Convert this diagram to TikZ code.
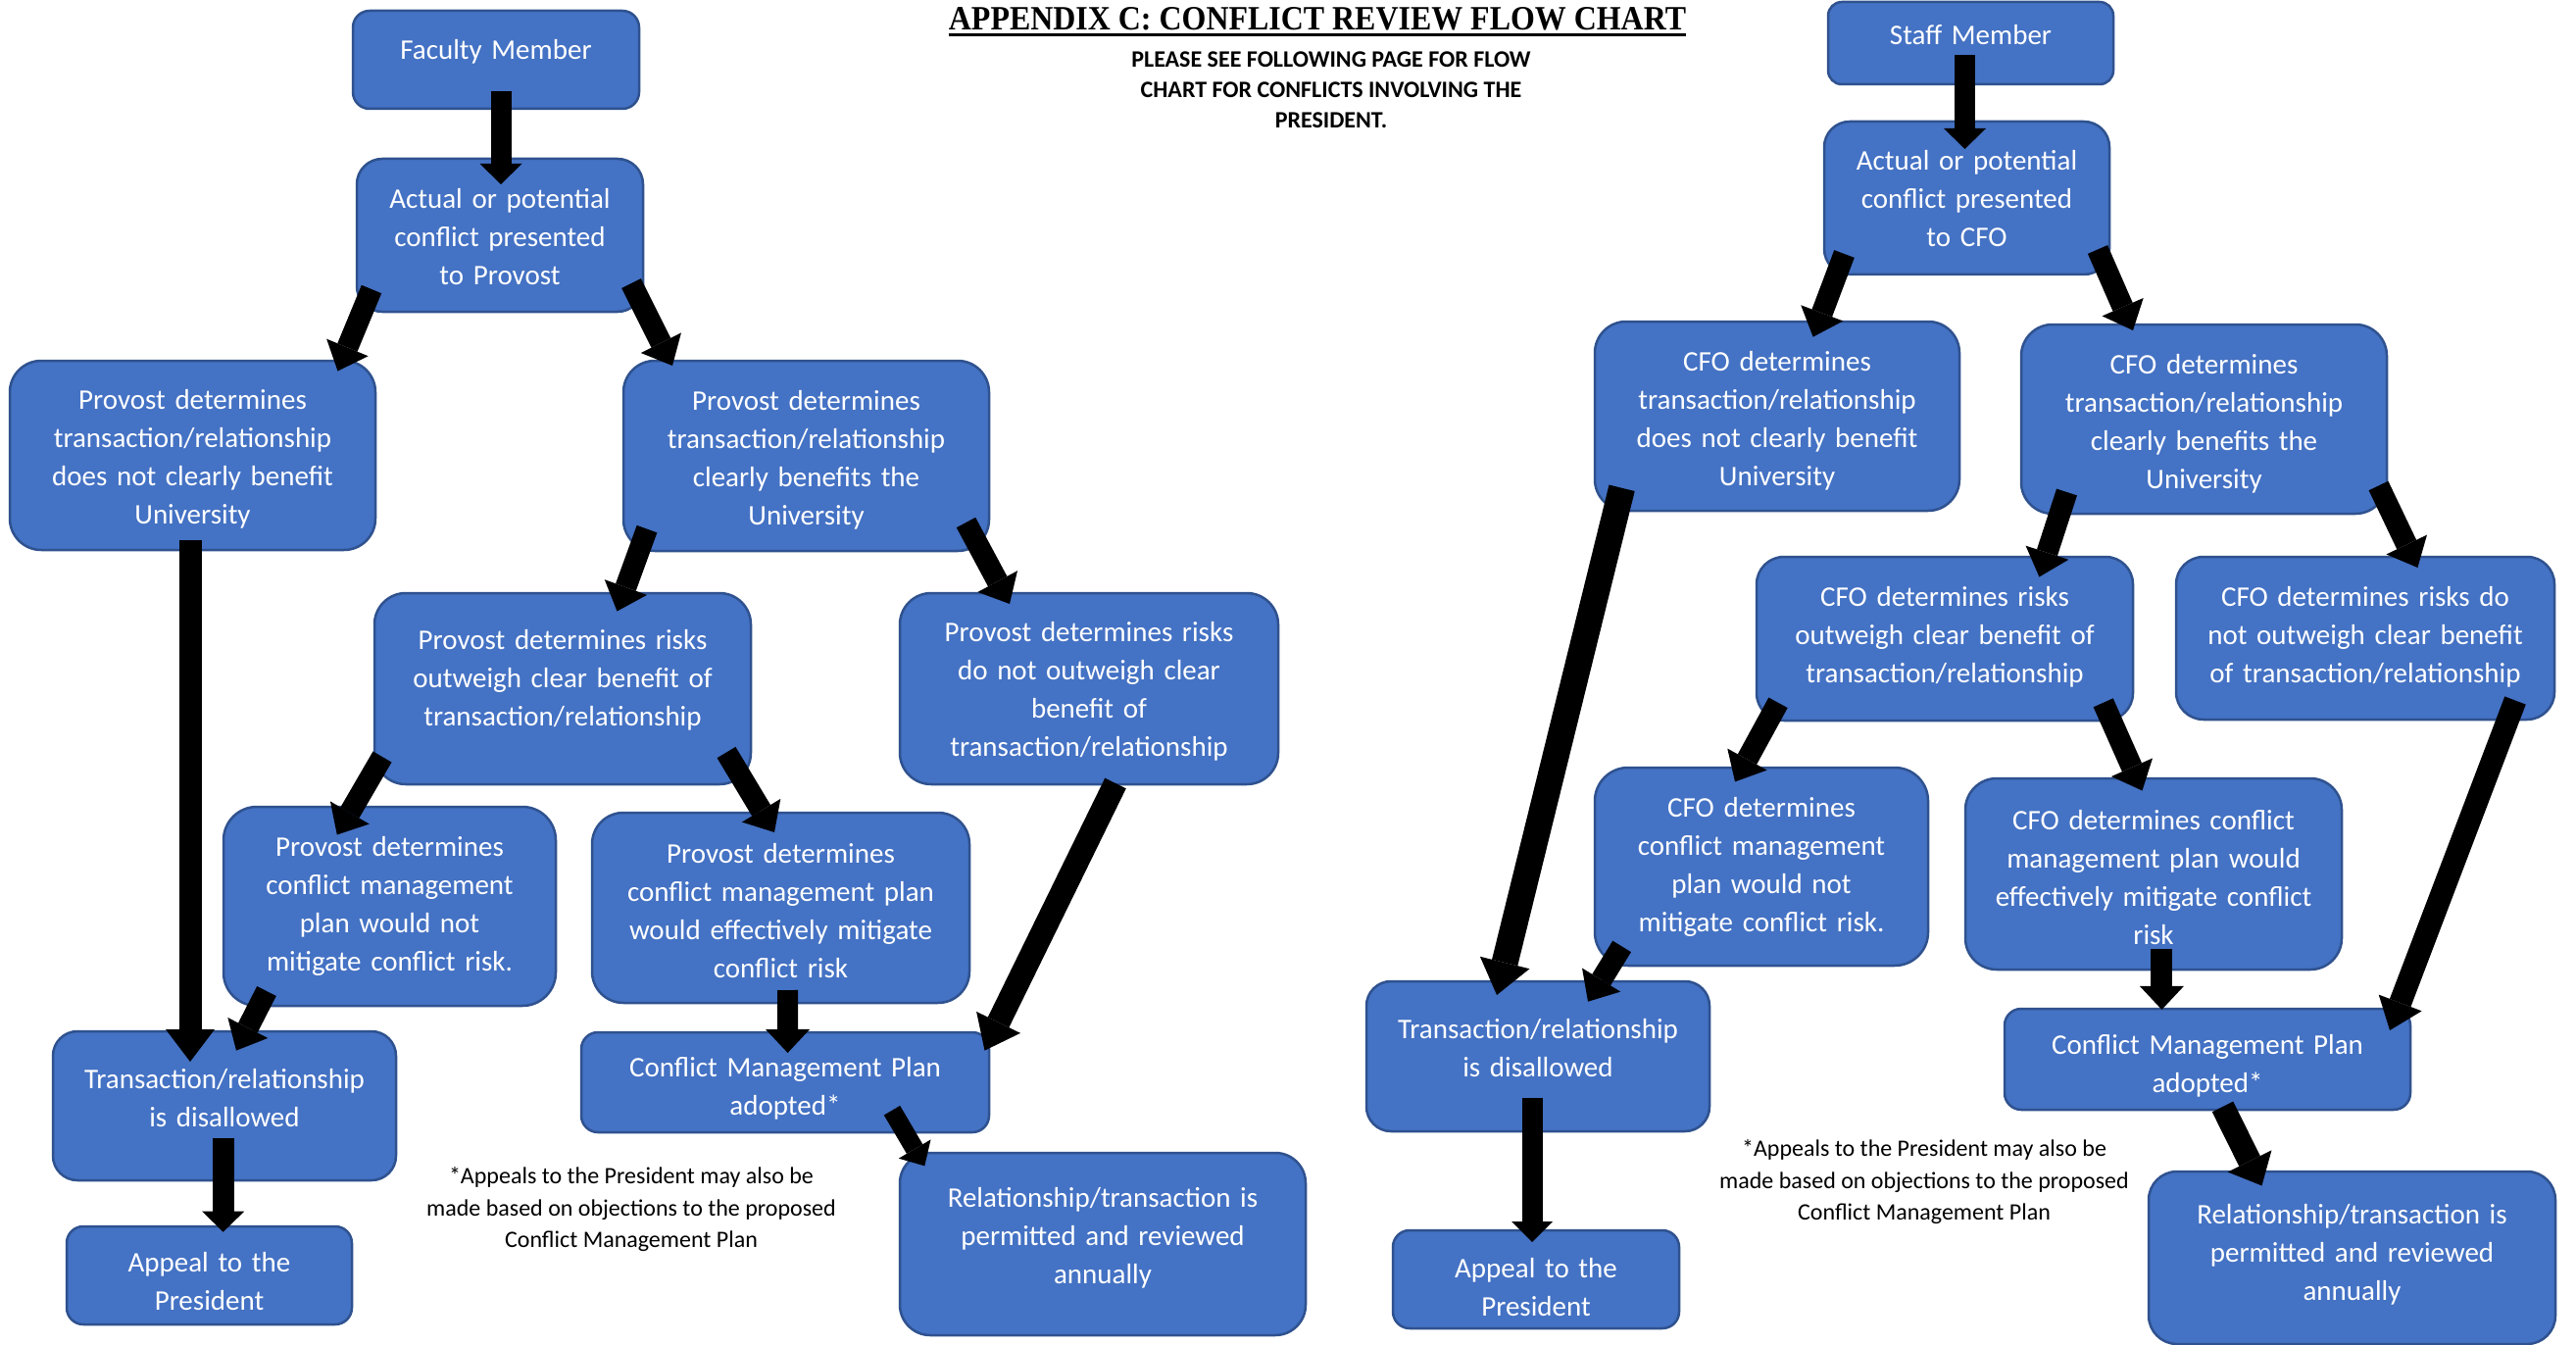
\documentclass[tikz,border=0pt]{standalone}
\usepackage{fontspec}
\setmainfont{Carlito}
\newfontfamily\titlefont{Liberation Serif}
\usepackage{graphicx}
\usetikzlibrary{arrows.meta}
\definecolor{boxfill}{HTML}{4472C4}
\definecolor{boxline}{HTML}{2F528F}
\tikzset{
  blbox/.style={draw=boxline, fill=boxfill, line width=2.5pt, inner sep=0pt, outer sep=0pt},
  btext/.style={text=white, align=center, inner sep=0pt, font=\fontsize{29}{39}\selectfont},
  fnote/.style={text=black, align=center, inner sep=0pt, font=\fontsize{24}{32.5}\selectfont},
  subnote/.style={text=black, align=center, inner sep=0pt, font=\fontsize{24}{31}\selectfont\bfseries},
  blockarr/.style n args={3}{line width=#1pt, -{Triangle[width=#2pt,length=#3pt,line width=0pt]}},
}
\newcommand\flowbox[8]{%
  \node[blbox, minimum width=#4pt, minimum height=#5pt, rounded corners=#6pt] (#1) at (#2,#3) {};
  \node[btext, text width=#4pt] (#1t) at (#2,{#7+3.5}) {#8};
}
\begin{document}
\begin{tikzpicture}[x=1pt,y=-1pt]
\fill[white] (0,0) rectangle (2628,1372);
\useasboundingbox (0,0) rectangle (2628,1372);

% title
\node[inner sep=0pt] (title) at (1344,19) {\resizebox{752pt}{23pt}{\titlefont\bfseries APPENDIX C: CONFLICT REVIEW FLOW CHART}};
\draw[line width=3.2pt] ([shift={(0,4.5)}]title.south west) -- ([shift={(0,4.5)}]title.south east);
\node[subnote] (sub) at (1358,92) {PLEASE SEE FOLLOWING PAGE FOR FLOW\\CHART FOR CONFLICTS INVOLVING THE\\PRESIDENT.};

% left chart
\flowbox{fac}{506}{61}{292}{100}{17}{49}{Faculty Member}
\flowbox{actP}{510}{240}{292}{156}{26}{238}{Actual or potential\\conflict presented\\to Provost}
\flowbox{pNot}{196.5}{464.5}{373}{193}{32}{465}{Provost determines\\transaction/relationship\\does not clearly benefit\\University}
\flowbox{pYes}{822.5}{465}{373}{194}{32}{466}{Provost determines\\transaction/relationship\\clearly benefits the\\University}
\flowbox{pRiskY}{574}{702.5}{384}{195}{32}{690}{Provost determines risks\\outweigh clear benefit of\\transaction/relationship}
\flowbox{pRiskN}{1111}{702.5}{386}{195}{32}{702}{Provost determines risks\\do not outweigh clear\\benefit of\\transaction/relationship}
\flowbox{pCmpN}{397.5}{924.5}{339}{203}{34}{921}{Provost determines\\conflict management\\plan would not\\mitigate conflict risk.}
\flowbox{pCmpY}{796.5}{926}{385}{194}{32}{926}{Provost determines\\conflict management plan\\would effectively mitigate\\conflict risk}
\flowbox{pDis}{229}{1128}{350}{152}{25}{1117}{Transaction/relationship\\is disallowed}
\flowbox{pAdopt}{801}{1104}{416}{102}{17}{1107}{Conflict Management Plan\\adopted*}
\flowbox{pApp}{213.5}{1301}{291}{100}{17}{1304}{Appeal to the\\President}
\flowbox{pRel}{1125}{1269}{414}{186}{31}{1259}{Relationship/transaction is\\permitted and reviewed\\annually}
\node[fnote] (noteL) at (644,1234) {*Appeals to the President may also be\\made based on objections to the proposed\\Conflict Management Plan};

% right chart
\flowbox{staff}{2010.5}{44}{291}{84}{14}{32}{Staff Member}
\flowbox{actC}{2006.5}{202}{291}{156}{26}{199}{Actual or potential\\conflict presented\\to CFO}
\flowbox{cNot}{1813}{424.5}{372}{193}{32}{426}{CFO determines\\transaction/relationship\\does not clearly benefit\\University}
\flowbox{cYes}{2248.5}{427.5}{373}{193}{32}{429}{CFO determines\\transaction/relationship\\clearly benefits the\\University}
\flowbox{cRiskY}{1984}{651.5}{384}{167}{28}{646}{CFO determines risks\\outweigh clear benefit of\\transaction/relationship}
\flowbox{cRiskN}{2413}{651}{386}{166}{28}{646}{CFO determines risks do\\not outweigh clear benefit\\of transaction/relationship}
\flowbox{cCmpN}{1797}{884}{340}{202}{34}{881}{CFO determines\\conflict management\\plan would not\\mitigate conflict risk.}
\flowbox{cCmpY}{2197}{891.5}{384}{195}{32}{892}{CFO determines conflict\\management plan would\\effectively mitigate conflict\\risk}
\flowbox{cDis}{1569}{1077.5}{350}{153}{25}{1066}{Transaction/relationship\\is disallowed}
\flowbox{cAdopt}{2252}{1080.5}{414}{103}{17}{1084}{Conflict Management Plan\\adopted*}
\flowbox{cApp}{1567}{1305}{292}{100}{17}{1310}{Appeal to the\\President}
\flowbox{cRel}{2399.5}{1283}{415}{176}{29}{1276}{Relationship/transaction is\\permitted and reviewed\\annually}
\node[fnote] (noteR) at (1963,1206) {*Appeals to the President may also be\\made based on objections to the proposed\\Conflict Management Plan};

% left arrows
\draw[blockarr={21}{43}{21}] ([shift={(5,32)}]fac.center) -- ([shift={(1,-52)}]actP.center);
\draw[blockarr={22}{46}{26}] ([shift={(-131,55)}]actP.center) -- ([shift={(148,-86)}]pNot.center);
\draw[blockarr={22}{46}{26}] ([shift={(134,49)}]actP.center) -- ([shift={(-136.5,-92)}]pYes.center);
\draw[blockarr={23}{50}{33}] ([shift={(-2.5,86.5)}]pNot.center) -- ([shift={(-35,-45)}]pDis.center);
\draw[blockarr={22}{46}{26}] ([shift={(-162.5,74.6)}]pYes.center) -- ([shift={(55.5,-79)}]pRiskY.center);
\draw[blockarr={22}{46}{26}] ([shift={(163,68)}]pYes.center) -- ([shift={(-81,-86.5)}]pRiskN.center);
\draw[blockarr={22}{46}{26}] ([shift={(-184,69.5)}]pRiskY.center) -- ([shift={(-53.7,-73)}]pCmpN.center);
\draw[blockarr={22}{46}{26}] ([shift={(167,65)}]pRiskY.center) -- ([shift={(-6.5,-77)}]pCmpY.center);
\draw[blockarr={24}{50}{32}] ([shift={(27,96.5)}]pRiskN.center) -- ([shift={(203.5,-32.4)}]pAdopt.center);
\draw[blockarr={22}{46}{26}] ([shift={(-125.5,86.5)}]pCmpN.center) -- ([shift={(12,-56.4)}]pDis.center);
\draw[blockarr={21}{45}{24}] ([shift={(7,84)}]pCmpY.center) -- ([shift={(2.6,-30)}]pAdopt.center);
\draw[blockarr={22}{43}{21}] ([shift={(-1.3,32.7)}]pDis.center) -- ([shift={(14.2,-44.3)}]pApp.center);
\draw[blockarr={19}{38}{20}] ([shift={(109,28.7)}]pAdopt.center) -- ([shift={(-181.7,-79.7)}]pRel.center);

% right arrows
\draw[blockarr={21}{43}{21}] ([shift={(-6,12)}]staff.center) -- ([shift={(-2,-50)}]actC.center);
\draw[blockarr={22}{46}{26}] ([shift={(-125,57)}]actC.center) -- ([shift={(36.6,-80.8)}]cNot.center);
\draw[blockarr={22}{46}{26}] ([shift={(133.5,52.5)}]actC.center) -- ([shift={(-72.5,-90.5)}]cYes.center);
\draw[blockarr={27}{52}{34}] ([shift={(-158.4,73.3)}]cNot.center) -- ([shift={(-42,-62.5)}]cDis.center);
\draw[blockarr={22}{46}{26}] ([shift={(-140,74.5)}]cYes.center) -- ([shift={(96.4,-63)}]cRiskY.center);
\draw[blockarr={22}{46}{26}] ([shift={(178,68)}]cYes.center) -- ([shift={(53.4,-72)}]cRiskN.center);
\draw[blockarr={22}{46}{26}] ([shift={(-170,65.3)}]cRiskY.center) -- ([shift={(-27,-86.6)}]cCmpN.center);
\draw[blockarr={22}{46}{26}] ([shift={(161.7,65.3)}]cRiskY.center) -- ([shift={(-11.5,-85)}]cCmpY.center);
\draw[blockarr={23}{47}{30}] ([shift={(153,63.5)}]cRiskN.center) -- ([shift={(186,-29.5)}]cAdopt.center);
\draw[blockarr={22}{46}{26}] ([shift={(-142.4,81.4)}]cCmpN.center) -- ([shift={(51,-55.8)}]cDis.center);
\draw[blockarr={22}{45}{24}] ([shift={(8.4,76.2)}]cCmpY.center) -- ([shift={(-46.6,-50.6)}]cAdopt.center);
\draw[blockarr={21}{42}{21}] ([shift={(-6,42.2)}]cDis.center) -- ([shift={(-4,-38)}]cApp.center);
\draw[blockarr={24}{50}{28}] ([shift={(15.5,48.4)}]cAdopt.center) -- ([shift={(-92,-73.5)}]cRel.center);
\end{tikzpicture}
\end{document}
